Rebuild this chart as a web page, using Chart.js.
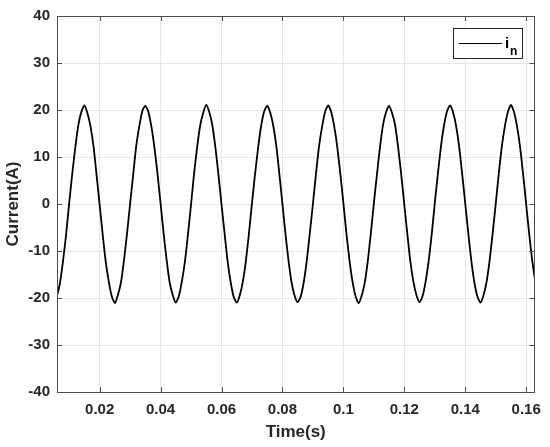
<!DOCTYPE html>
<html lang="en">
<head>
  <meta charset="UTF-8">
  <title>Current i_n</title>
  <script src="https://cdn.jsdelivr.net/npm/chart.js"></script>
  <style>
    body {
      margin: 0;
      padding: 0;
      background-color: #fff;
    }
    canvas {
      display: block;
    }
  </style>
</head>
<body>
  <canvas id="currentChart" width="550" height="447"></canvas>

  <script>
    // Time samples (s), 1 ms apart
    const time = [
      0.005, 0.006, 0.007, 0.008, 0.009,
      0.010, 0.011, 0.012, 0.013, 0.014, 0.015, 0.016, 0.017, 0.018, 0.019, 0.020, 0.021, 0.022, 0.023, 0.024, 0.025, 0.026, 0.027, 0.028, 0.029,
      0.030, 0.031, 0.032, 0.033, 0.034, 0.035, 0.036, 0.037, 0.038, 0.039, 0.040, 0.041, 0.042, 0.043, 0.044, 0.045, 0.046, 0.047, 0.048, 0.049,
      0.050, 0.051, 0.052, 0.053, 0.054, 0.055, 0.056, 0.057, 0.058, 0.059, 0.060, 0.061, 0.062, 0.063, 0.064, 0.065, 0.066, 0.067, 0.068, 0.069,
      0.070, 0.071, 0.072, 0.073, 0.074, 0.075, 0.076, 0.077, 0.078, 0.079, 0.080, 0.081, 0.082, 0.083, 0.084, 0.085, 0.086, 0.087, 0.088, 0.089,
      0.090, 0.091, 0.092, 0.093, 0.094, 0.095, 0.096, 0.097, 0.098, 0.099, 0.100, 0.101, 0.102, 0.103, 0.104, 0.105, 0.106, 0.107, 0.108, 0.109,
      0.110, 0.111, 0.112, 0.113, 0.114, 0.115, 0.116, 0.117, 0.118, 0.119, 0.120, 0.121, 0.122, 0.123, 0.124, 0.125, 0.126, 0.127, 0.128, 0.129,
      0.130, 0.131, 0.132, 0.133, 0.134, 0.135, 0.136, 0.137, 0.138, 0.139, 0.140, 0.141, 0.142, 0.143, 0.144, 0.145, 0.146, 0.147, 0.148, 0.149,
      0.150, 0.151, 0.152, 0.153, 0.154, 0.155, 0.156, 0.157, 0.158, 0.159, 0.160, 0.161, 0.162, 0.163
    ];

    // Current i_n (A)
    const current = [
      -20.5, -19.4, -16.7, -12.0, -6.4,
      0.2, 6.4, 12.0, 16.8, 19.6, 21.0, 19.3, 16.5, 12.2, 6.1, -0.2, -6.5, -12.3, -16.5, -19.7, -21.1, -19.3, -16.7, -11.9, -6.2,
      0.1, 6.2, 12.3, 16.5, 19.8, 20.9, 19.6, 16.4, 11.9, 6.4, 0.1, -6.3, -12.0, -16.8, -19.4, -21.0, -19.6, -16.4, -12.2, -6.4,
      -0.1, 6.5, 12.1, 16.7, 19.4, 21.1, 19.5, 16.7, 12.0, 6.2, -0.1, -6.2, -12.2, -16.6, -19.8, -21.0, -19.4, -16.5, -12.1, -6.3,
      0.2, 6.3, 11.9, 16.6, 19.7, 20.9, 19.4, 16.6, 12.3, 6.3, 0.0, -6.4, -12.1, -16.7, -19.5, -20.9, -19.7, -16.6, -12.0, -6.1,
      0.0, 6.4, 12.2, 16.4, 19.6, 21.0, 19.6, 16.5, 12.1, 6.4, 0.2, -6.3, -12.0, -16.5, -19.6, -21.1, -19.5, -16.8, -12.2, -6.3,
      0.1, 6.2, 12.0, 16.8, 19.5, 20.9, 19.3, 16.7, 11.9, 6.2, -0.2, -6.4, -12.3, -16.6, -19.4, -20.9, -19.6, -16.5, -12.1, -6.4,
      0.2, 6.3, 12.1, 16.6, 19.7, 21.0, 19.5, 16.6, 12.2, 6.3, 0.1, -6.2, -12.1, -16.7, -19.7, -21.0, -19.4, -16.6, -12.0, -6.2,
      0.0, 6.4, 12.2, 16.5, 19.6, 21.1, 19.6, 16.5, 12.1, 6.3, -0.1, -6.4, -12.1, -16.6
    ];

    const xTicks = [0.02, 0.04, 0.06, 0.08, 0.1, 0.12, 0.14, 0.16];
    const yTicks = [-40, -30, -20, -10, 0, 10, 20, 30, 40];

    const textColor = "#262626";
    const boxColor = "#4d4d4d";
    const gridColor = "#e6e6e6";
    const fontFamily = "'Liberation Sans', Arial, sans-serif";

    // box, inner tick marks (MATLAB style) and the legend
    const framePlugin = {
      id: "frame",
      afterDraw(chart) {
        const ctx = chart.ctx;
        const area = chart.chartArea;
        const xs = chart.scales.x;
        const ys = chart.scales.y;
        ctx.save();
        ctx.strokeStyle = boxColor;
        ctx.lineWidth = 1;
        ctx.strokeRect(Math.round(area.left) + 0.5, Math.round(area.top) + 0.5,
          Math.round(area.right - area.left), Math.round(area.bottom - area.top));

        ctx.beginPath();
        xTicks.forEach(v => {
          const px = Math.round(xs.getPixelForValue(v)) + 0.5;
          ctx.moveTo(px, area.bottom);
          ctx.lineTo(px, area.bottom - 5);
          ctx.moveTo(px, area.top);
          ctx.lineTo(px, area.top + 5);
        });
        yTicks.slice(1, -1).forEach(v => {
          const py = Math.round(ys.getPixelForValue(v)) + 0.5;
          ctx.moveTo(area.left, py);
          ctx.lineTo(area.left + 5, py);
          ctx.moveTo(area.right, py);
          ctx.lineTo(area.right - 5, py);
        });
        ctx.stroke();

        // legend
        ctx.fillStyle = "#fff";
        ctx.fillRect(453, 28, 69, 30);
        ctx.strokeStyle = "#262626";
        ctx.strokeRect(453.5, 28.5, 69, 30);
        ctx.strokeStyle = "#000";
        ctx.beginPath();
        ctx.moveTo(459, 43.5);
        ctx.lineTo(502, 43.5);
        ctx.stroke();
        ctx.fillStyle = "#000";
        ctx.textBaseline = "alphabetic";
        ctx.textAlign = "left";
        ctx.font = "bold 15px " + fontFamily;
        ctx.fillText("i", 505, 48);
        ctx.font = "bold 12px " + fontFamily;
        ctx.fillText("n", 510, 55);
        ctx.restore();
      }
    };

    const ctx = document.getElementById("currentChart").getContext("2d");
    const currentChart = new Chart(ctx, {
      type: "line",
      data: {
        datasets: [
          {
            label: "i_n",
            data: time.map((t, i) => ({ x: t, y: current[i] })),
            borderColor: "#000",
            borderWidth: 1.8,
            pointRadius: 0,
            tension: 0.2,
            fill: false,
          },
        ],
      },
      options: {
        responsive: false,
        animation: false,
        layout: { padding: { top: 14, right: 13, left: 0, bottom: 0 } },
        plugins: {
          legend: { display: false },
          tooltip: { enabled: false },
        },
        scales: {
          x: {
            type: "linear",
            min: 0.006,
            max: 0.1627,
            afterBuildTicks: s => { s.ticks = xTicks.map(v => ({ value: v })); },
            afterFit: s => { s.height = 55; },
            ticks: {
              callback: v => String(Number(v.toFixed(2))),
              color: textColor,
              font: { family: fontFamily, size: 15, weight: "bold" },
              padding: 9,
              maxRotation: 0,
              autoSkip: false,
            },
            grid: { color: gridColor, drawTicks: false },
            border: { display: false },
            title: {
              display: true,
              text: "Time(s)",
              color: textColor,
              font: { family: fontFamily, size: 17, weight: "bold" },
              padding: { top: 0, bottom: 4 },
            },
          },
          y: {
            min: -40,
            max: 40,
            afterBuildTicks: s => { s.ticks = yTicks.map(v => ({ value: v })); },
            afterFit: s => { s.width = 57; },
            ticks: {
              color: textColor,
              font: { family: fontFamily, size: 15, weight: "bold" },
              padding: 7,
            },
            grid: { color: gridColor, drawTicks: false },
            border: { display: false },
            title: {
              display: true,
              text: "Current(A)",
              color: textColor,
              font: { family: fontFamily, size: 17, weight: "bold" },
              padding: { top: 3, bottom: 0 },
            },
          },
        },
      },
      plugins: [framePlugin],
    });
  </script>
</body>
</html>
